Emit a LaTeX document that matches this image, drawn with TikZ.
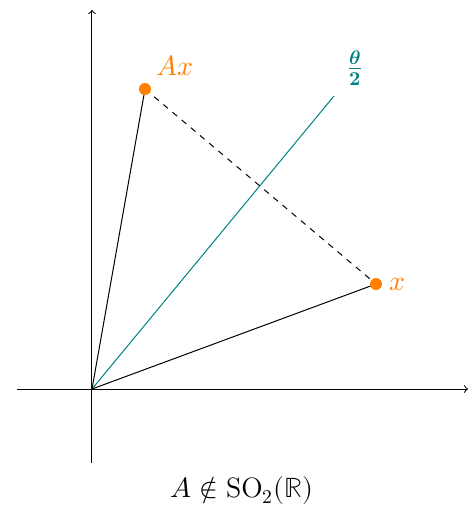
\documentclass[tikz,border=0pt]{standalone}
\usepackage{amsmath}
\usepackage{unicode-math}
\setmathfont{Latin Modern Math}
\begin{document}
\begin{tikzpicture}[x=0.5pt,y=-0.5pt,
  dot/.style={fill=orange},
  big/.style={font=\fontsize{14}{16}\selectfont},
  lbl/.style={big,text=orange},
  axis/.style={->,line width=0.5pt}]
\useasboundingbox (0,0) rectangle (474,511);
\coordinate (O) at (92,389);
\coordinate (xl) at (17,389);
\coordinate (xr) at (468,389);
\coordinate (yb) at (92,463);
\coordinate (yt) at (92,10);
\coordinate (T) at (334,96);
\coordinate (Ax) at (145,89);
\coordinate (X) at (376,284);
\draw[axis] (xl) -- (xr);
\draw[axis] (yb) -- (yt);
\draw[teal,line width=0.5pt] (O) -- (T);
\draw[line width=0.5pt] (O) -- (Ax);
\draw[line width=0.5pt] (O) -- (X);
\draw[dashed,line width=0.5pt] (Ax) -- (X);
\fill[dot] (Ax) circle (6);
\fill[dot] (X) circle (6);
\node[lbl] (lAx) at (175,66) {$Ax$};
\node[lbl] (lX) at (398,284) {$x$};
\node[big,text=teal] (lT) at (355,68) {$\frac{\symbfit{\theta}}{\symbf{2}}$};
\node[big] (cap) at (242,490) {$A ∉ \mathrm{SO}_2(\mathbb{R})$};
\end{tikzpicture}
\end{document}
